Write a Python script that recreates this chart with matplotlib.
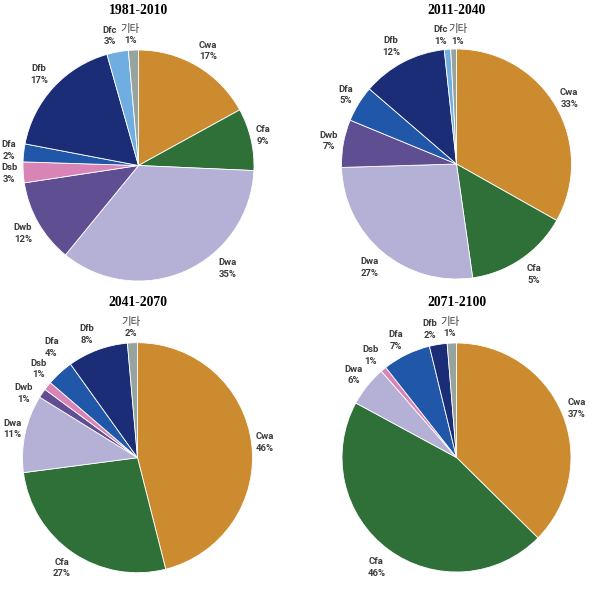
import matplotlib
matplotlib.use("Agg")
import matplotlib.pyplot as plt

# ---------------- data ----------------
titles = ['1981-2010', '2011-2040', '2041-2070', '2071-2100']

categories_1981 = ['Cwa', 'Cfa', 'Dwa', 'Dwb', 'Dsb', 'Dfa', 'Dfb', 'Dfc', '기타']
values_1981 = [17.0, 8.7, 35.2, 11.7, 2.9, 2.5, 17.6, 3.0, 1.4]
pct_labels_1981 = ['17%', '9%', '35%', '12%', '3%', '2%', '17%', '3%', '1%']

categories_2011 = ['Cwa', 'Cfa', 'Dwa', 'Dwb', 'Dfa', 'Dfb', 'Dfc', '기타']
values_2011 = [33.2, 14.6, 26.8, 6.7, 5.1, 12.0, 0.9, 0.8]
pct_labels_2011 = ['33%', '5%', '27%', '7%', '5%', '12%', '1%', '1%']

categories_2041 = ['Cwa', 'Cfa', 'Dwa', 'Dwb', 'Dsb', 'Dfa', 'Dfb', '기타']
values_2041 = [46.1, 26.9, 10.9, 1.3, 1.2, 3.8, 8.5, 1.4]
pct_labels_2041 = ['46%', '27%', '11%', '1%', '1%', '4%', '8%', '2%']

categories_2071 = ['Cwa', 'Cfa', 'Dwa', 'Dsb', 'Dfa', 'Dfb', '기타']
values_2071 = [37.4, 45.5, 5.7, 0.8, 6.8, 2.5, 1.3]
pct_labels_2071 = ['37%', '46%', '6%', '1%', '7%', '2%', '1%']

# ---------------- style ----------------
colors = {
    'Cwa': '#CD8B2F', 'Cfa': '#2F6F38', 'Dwa': '#B4B0D6', 'Dwb': '#5F4E92',
    'Dsb': '#D884B6', 'Dfa': '#2057A8', 'Dfb': '#1B2D76', 'Dfc': '#70ADE0',
    '기타': '#97A39F',
}

# label positions (in units of pie radius), one list per panel
label_pos = [
    [(0.60, 0.99), (1.08, 0.26), (0.77, -0.89), (-1.00, -0.59), (-1.12, -0.07),
     (-1.12, 0.13), (-0.86, 0.79), (-0.25, 1.12), (-0.07, 1.13)],
    [(0.98, 0.57), (0.67, -0.96), (-0.76, -0.90), (-1.11, 0.20), (-0.96, 0.60),
     (-0.57, 1.02), (-0.14, 1.12), (0.01, 1.12)],
    [(1.11, 0.13), (-0.66, -0.96), (-1.09, 0.25), (-0.99, 0.56), (-0.86, 0.77),
     (-0.75, 0.96), (-0.44, 1.07), (-0.06, 1.13)],
    [(1.05, 0.43), (-0.70, -0.96), (-0.90, 0.72), (-0.75, 0.89), (-0.53, 1.02),
     (-0.23, 1.12), (-0.06, 1.13)],
]

# panel centres / radius in pixels
W, H = 594, 590
centers = [(138.5, 165.5), (456.5, 164.0), (137.5, 457.7), (456.5, 457.5)]
radii = [115.5, 115.0, 115.0, 114.5]
title_y = [10, 10, 302, 302]

panels = [
    (categories_1981, values_1981, pct_labels_1981),
    (categories_2011, values_2011, pct_labels_2011),
    (categories_2041, values_2041, pct_labels_2041),
    (categories_2071, values_2071, pct_labels_2071),
]

fig = plt.figure(figsize=(W / 100, H / 100), dpi=100)
fig.patch.set_facecolor('white')

half = 150  # half-size of each axes in px
label_font = ['Roboto', 'DejaVu Sans']
kr_font = ['Noto Sans CJK KR', 'DejaVu Sans']
text_color = '#3C3C3C'
line_gap = 5.8 / 115.0  # half distance between label lines, in radius units

for i, (cats, vals, labs) in enumerate(panels):
    cx, cy = centers[i]
    r = radii[i]
    ax = fig.add_axes([(cx - half) / W, (H - cy - half) / H, 2 * half / W, 2 * half / H])
    lim = half / r
    ax.pie(vals, colors=[colors[c] for c in cats], startangle=90, counterclock=False,
           radius=1.0, wedgeprops=dict(edgecolor='white', linewidth=0.6))
    ax.set_xlim(-lim, lim)
    ax.set_ylim(-lim, lim)
    ax.set_aspect('equal')
    ax.axis('off')
    for (lx, ly), c, p in zip(label_pos[i], cats, labs):
        if c == '기타':
            ax.text(lx, ly + line_gap, c, ha='center', va='center', fontsize=7.5,
                    color=text_color, family=kr_font)
        else:
            ax.text(lx, ly + line_gap, c, ha='center', va='center', fontsize=6.8,
                    fontweight='bold', color=text_color, family=label_font)
        ax.text(lx, ly - line_gap, p, ha='center', va='center', fontsize=6.8,
                fontweight='bold', color=text_color, family=label_font)
    fig.text(cx / W, 1 - title_y[i] / H, titles[i], ha='center', va='center',
             fontsize=9.8, fontweight='bold', family='Liberation Serif', color='black')

fig.savefig('out.png', dpi=100, facecolor='white')
